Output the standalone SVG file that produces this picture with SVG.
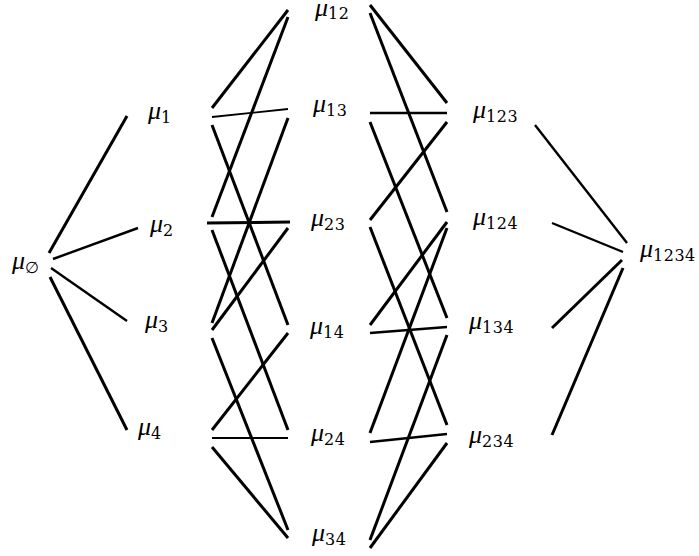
<svg xmlns="http://www.w3.org/2000/svg" width="699" height="556" viewBox="0 0 699 556">
<style>
text{fill:#000}
.m{font-family:"Liberation Serif","Times New Roman",serif;font-style:italic;font-size:26px}
.s{font-family:"DejaVu Serif",serif;font-style:normal;font-size:16px;letter-spacing:0.5px}
line{stroke:#000;stroke-width:3;stroke-linecap:butt}
.t{stroke-width:1.8}
.u{stroke-width:2.4}
</style>
<rect width="699" height="556" fill="#fff"/>
<g id="connectors">
<line x1="49" y1="253" x2="127" y2="116"/>
<line class="u" x1="53" y1="259" x2="138" y2="228"/>
<line class="u" x1="51" y1="268" x2="127" y2="321"/>
<line x1="50" y1="277" x2="127" y2="430"/>
<line x1="212" y1="108" x2="288" y2="10"/>
<line class="t" x1="212" y1="117" x2="288" y2="109"/>
<line x1="212" y1="125" x2="288" y2="325"/>
<line x1="212" y1="217" x2="288" y2="17"/>
<line x1="207" y1="223" x2="290" y2="222"/>
<line x1="212" y1="230" x2="288" y2="430"/>
<line x1="212" y1="323" x2="288" y2="118"/>
<line x1="212" y1="330" x2="288" y2="228"/>
<line x1="212" y1="338" x2="288" y2="530"/>
<line x1="212" y1="430" x2="288" y2="333"/>
<line class="t" x1="212" y1="438" x2="288" y2="438"/>
<line x1="212" y1="447" x2="288" y2="538"/>
<line x1="370" y1="5" x2="447" y2="103"/>
<line x1="370" y1="13" x2="447" y2="212"/>
<line class="u" x1="370" y1="113" x2="447" y2="113"/>
<line x1="370" y1="122" x2="447" y2="318"/>
<line x1="370" y1="220" x2="447" y2="122"/>
<line x1="370" y1="227" x2="447" y2="425"/>
<line x1="370" y1="325" x2="447" y2="222"/>
<line class="u" x1="370" y1="333" x2="447" y2="327"/>
<line x1="370" y1="433" x2="447" y2="228"/>
<line class="u" x1="370" y1="442" x2="447" y2="434"/>
<line x1="370" y1="540" x2="447" y2="335"/>
<line x1="370" y1="548" x2="447" y2="443"/>
<line class="u" x1="535" y1="125" x2="627" y2="243"/>
<line class="u" x1="552" y1="223" x2="623" y2="252"/>
<line x1="552" y1="328" x2="622" y2="260"/>
<line x1="552" y1="435" x2="623" y2="268"/>
</g>
<g id="n0"><text x="12" y="269"><tspan class="m">μ</tspan><tspan class="s" dy="4">∅</tspan></text></g>
<g id="n1"><text x="148" y="119"><tspan class="m">μ</tspan><tspan class="s" dy="4">1</tspan></text></g>
<g id="n2"><text x="150" y="232"><tspan class="m">μ</tspan><tspan class="s" dy="4">2</tspan></text></g>
<g id="n3"><text x="145" y="328"><tspan class="m">μ</tspan><tspan class="s" dy="4">3</tspan></text></g>
<g id="n4"><text x="138" y="435"><tspan class="m">μ</tspan><tspan class="s" dy="4">4</tspan></text></g>
<g id="n12"><text x="315" y="16"><tspan class="m">μ</tspan><tspan class="s" dy="3">12</tspan></text></g>
<g id="n13"><text x="313" y="112"><tspan class="m">μ</tspan><tspan class="s" dy="4">13</tspan></text></g>
<g id="n23"><text x="311" y="226"><tspan class="m">μ</tspan><tspan class="s" dy="4">23</tspan></text></g>
<g id="n14"><text x="310" y="334"><tspan class="m">μ</tspan><tspan class="s" dy="4">14</tspan></text></g>
<g id="n24"><text x="311" y="441"><tspan class="m">μ</tspan><tspan class="s" dy="4">24</tspan></text></g>
<g id="n34"><text x="312" y="541"><tspan class="m">μ</tspan><tspan class="s" dy="4">34</tspan></text></g>
<g id="n123"><text x="473" y="118"><tspan class="m">μ</tspan><tspan class="s" dy="4">123</tspan></text></g>
<g id="n124"><text x="473" y="225"><tspan class="m">μ</tspan><tspan class="s" dy="4">124</tspan></text></g>
<g id="n134"><text x="469" y="329"><tspan class="m">μ</tspan><tspan class="s" dy="4">134</tspan></text></g>
<g id="n234"><text x="469" y="443"><tspan class="m">μ</tspan><tspan class="s" dy="4">234</tspan></text></g>
<g id="n1234"><text x="640" y="257"><tspan class="m">μ</tspan><tspan class="s" dy="4">1234</tspan></text></g>
</svg>
